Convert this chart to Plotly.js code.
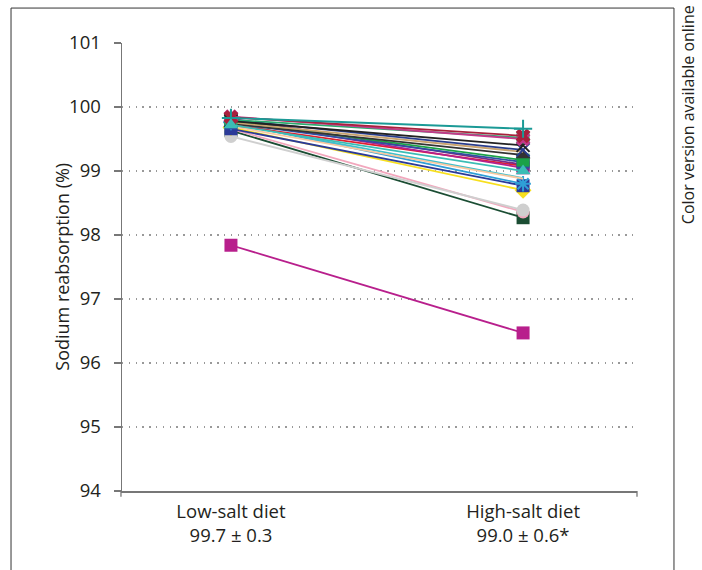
<!DOCTYPE html>
<html>
<head>
<meta charset="utf-8">
<script src="https://cdn.plot.ly/plotly-3.0.1.min.js"></script>
<style>html,body{margin:0;padding:0;background:#fff;}#chart{width:702px;height:570px;}</style>
</head>
<body>
<div id="chart"></div>
<script>
// Categories and tick labels
const categories = [0, 1];
const tickLabels = ["Low-salt diet<br>99.7 ± 0.3", "High-salt diet<br>99.0 ± 0.6*"];

// Sodium reabsorption (%) per subject: low-salt diet, high-salt diet
const lowSalt  = [97.84, 99.63, 99.66, 99.54, 99.68, 99.66, 99.76, 99.74, 99.70, 99.72, 99.80, 99.82, 99.75, 99.78, 99.74, 99.76, 99.80, 99.80, 99.78, 99.85, 99.84, 99.83, 99.72];
const highSalt = [96.47, 98.27, 98.36, 98.39, 98.70, 98.77, 98.80, 98.89, 98.88, 99.08, 99.05, 99.10, 99.14, 99.17, 99.25, 99.30, 99.33, 99.52, 99.40, 99.50, 99.55, 99.66, 99.00];

// Styles (one per subject)
const colors  = ["#b81f8c", "#1b4d33", "#f2a7bd", "#cfcfcf", "#f7df1e", "#2b3a98", "#2f9fd6", "#3fc0cc", "#f9c8a0", "#e0202e", "#b5208e", "#7d2a84", "#2e4fa3", "#1aa148", "#333333", "#c9a36e", "#283c8c", "#2bab6d", "#222222", "#c23a8a", "#a8213c", "#1b9a96", "#3bbdb5"];
const symbols = ["square", "square", "circle", "circle", "diamond", "square", "asterisk-open", "line-ew", "line-ew", "line-ew", "square", "square", "square", "square", "triangle-up", "line-ew", "x-thin-open", "square", "x-thin-open", "x", "x", "cross-thin-open", "triangle-up"];

const traces = lowSalt.map((v, i) => ({
  type: "scatter",
  mode: "lines+markers",
  x: categories,
  y: [v, highSalt[i]],
  line: {color: colors[i], width: 1.8},
  marker: {symbol: symbols[i], color: colors[i], size: 13, line: {color: colors[i], width: symbols[i].indexOf("open") >= 0 ? 2 : 0}},
  showlegend: false,
  hoverinfo: "y"
}));

const layout = {
  width: 702, height: 570,
  margin: {l: 122, r: 65, t: 43, b: 79},
  paper_bgcolor: "#fff", plot_bgcolor: "#fff",
  font: {family: "Open Sans, sans-serif", color: "#231f20"},
  xaxis: {
    range: [-0.373, 1.39],
    tickvals: categories, ticktext: tickLabels,
    ticks: "", showgrid: false, zeroline: false,
    showline: true, linecolor: "#777", linewidth: 1.5,
    ticklabelstandoff: 3,
    tickfont: {size: 18.5, color: "#231f20"}
  },
  yaxis: {
    range: [94, 101], dtick: 1, tick0: 94,
    ticks: "outside", ticklen: 7, tickcolor: "#777", tickwidth: 1.3,
    ticklabelstandoff: 9,
    showline: true, linecolor: "#777", linewidth: 1.5,
    showgrid: true, gridcolor: "#999", griddash: "1.3px,5.5px", gridwidth: 1.3,
    zeroline: false,
    tickfont: {size: 18.5, color: "#231f20"}
  },
  shapes: [
    {type: "rect", xref: "paper", yref: "paper", x0: -0.2155, x1: 1.0718, y0: -0.2, y1: 1.078, line: {color: "#333", width: 1}},
    {type: "line", xref: "paper", yref: "paper", x0: 1.0, x1: 1.0, y0: 0, y1: -0.013, line: {color: "#777", width: 1.3}},
    {type: "line", xref: "paper", yref: "paper", x0: -0.002, x1: -0.002, y0: 0, y1: -0.013, line: {color: "#777", width: 1.3}}
  ],
  annotations: [
    {text: "Sodium reabsorption (%)", xref: "paper", yref: "paper", x: -0.117, y: 0.5, xanchor: "center", yanchor: "middle", textangle: -90, showarrow: false, font: {size: 18, color: "#231f20"}},
    {text: "Color version available online", xref: "paper", yref: "paper", x: 1.098, y: 0.84, xanchor: "center", yanchor: "middle", textangle: -90, showarrow: false, font: {size: 16, color: "#231f20"}}
  ]
};

Plotly.newPlot("chart", traces, layout, {displayModeBar: false, staticPlot: true});
</script>
</body>
</html>
